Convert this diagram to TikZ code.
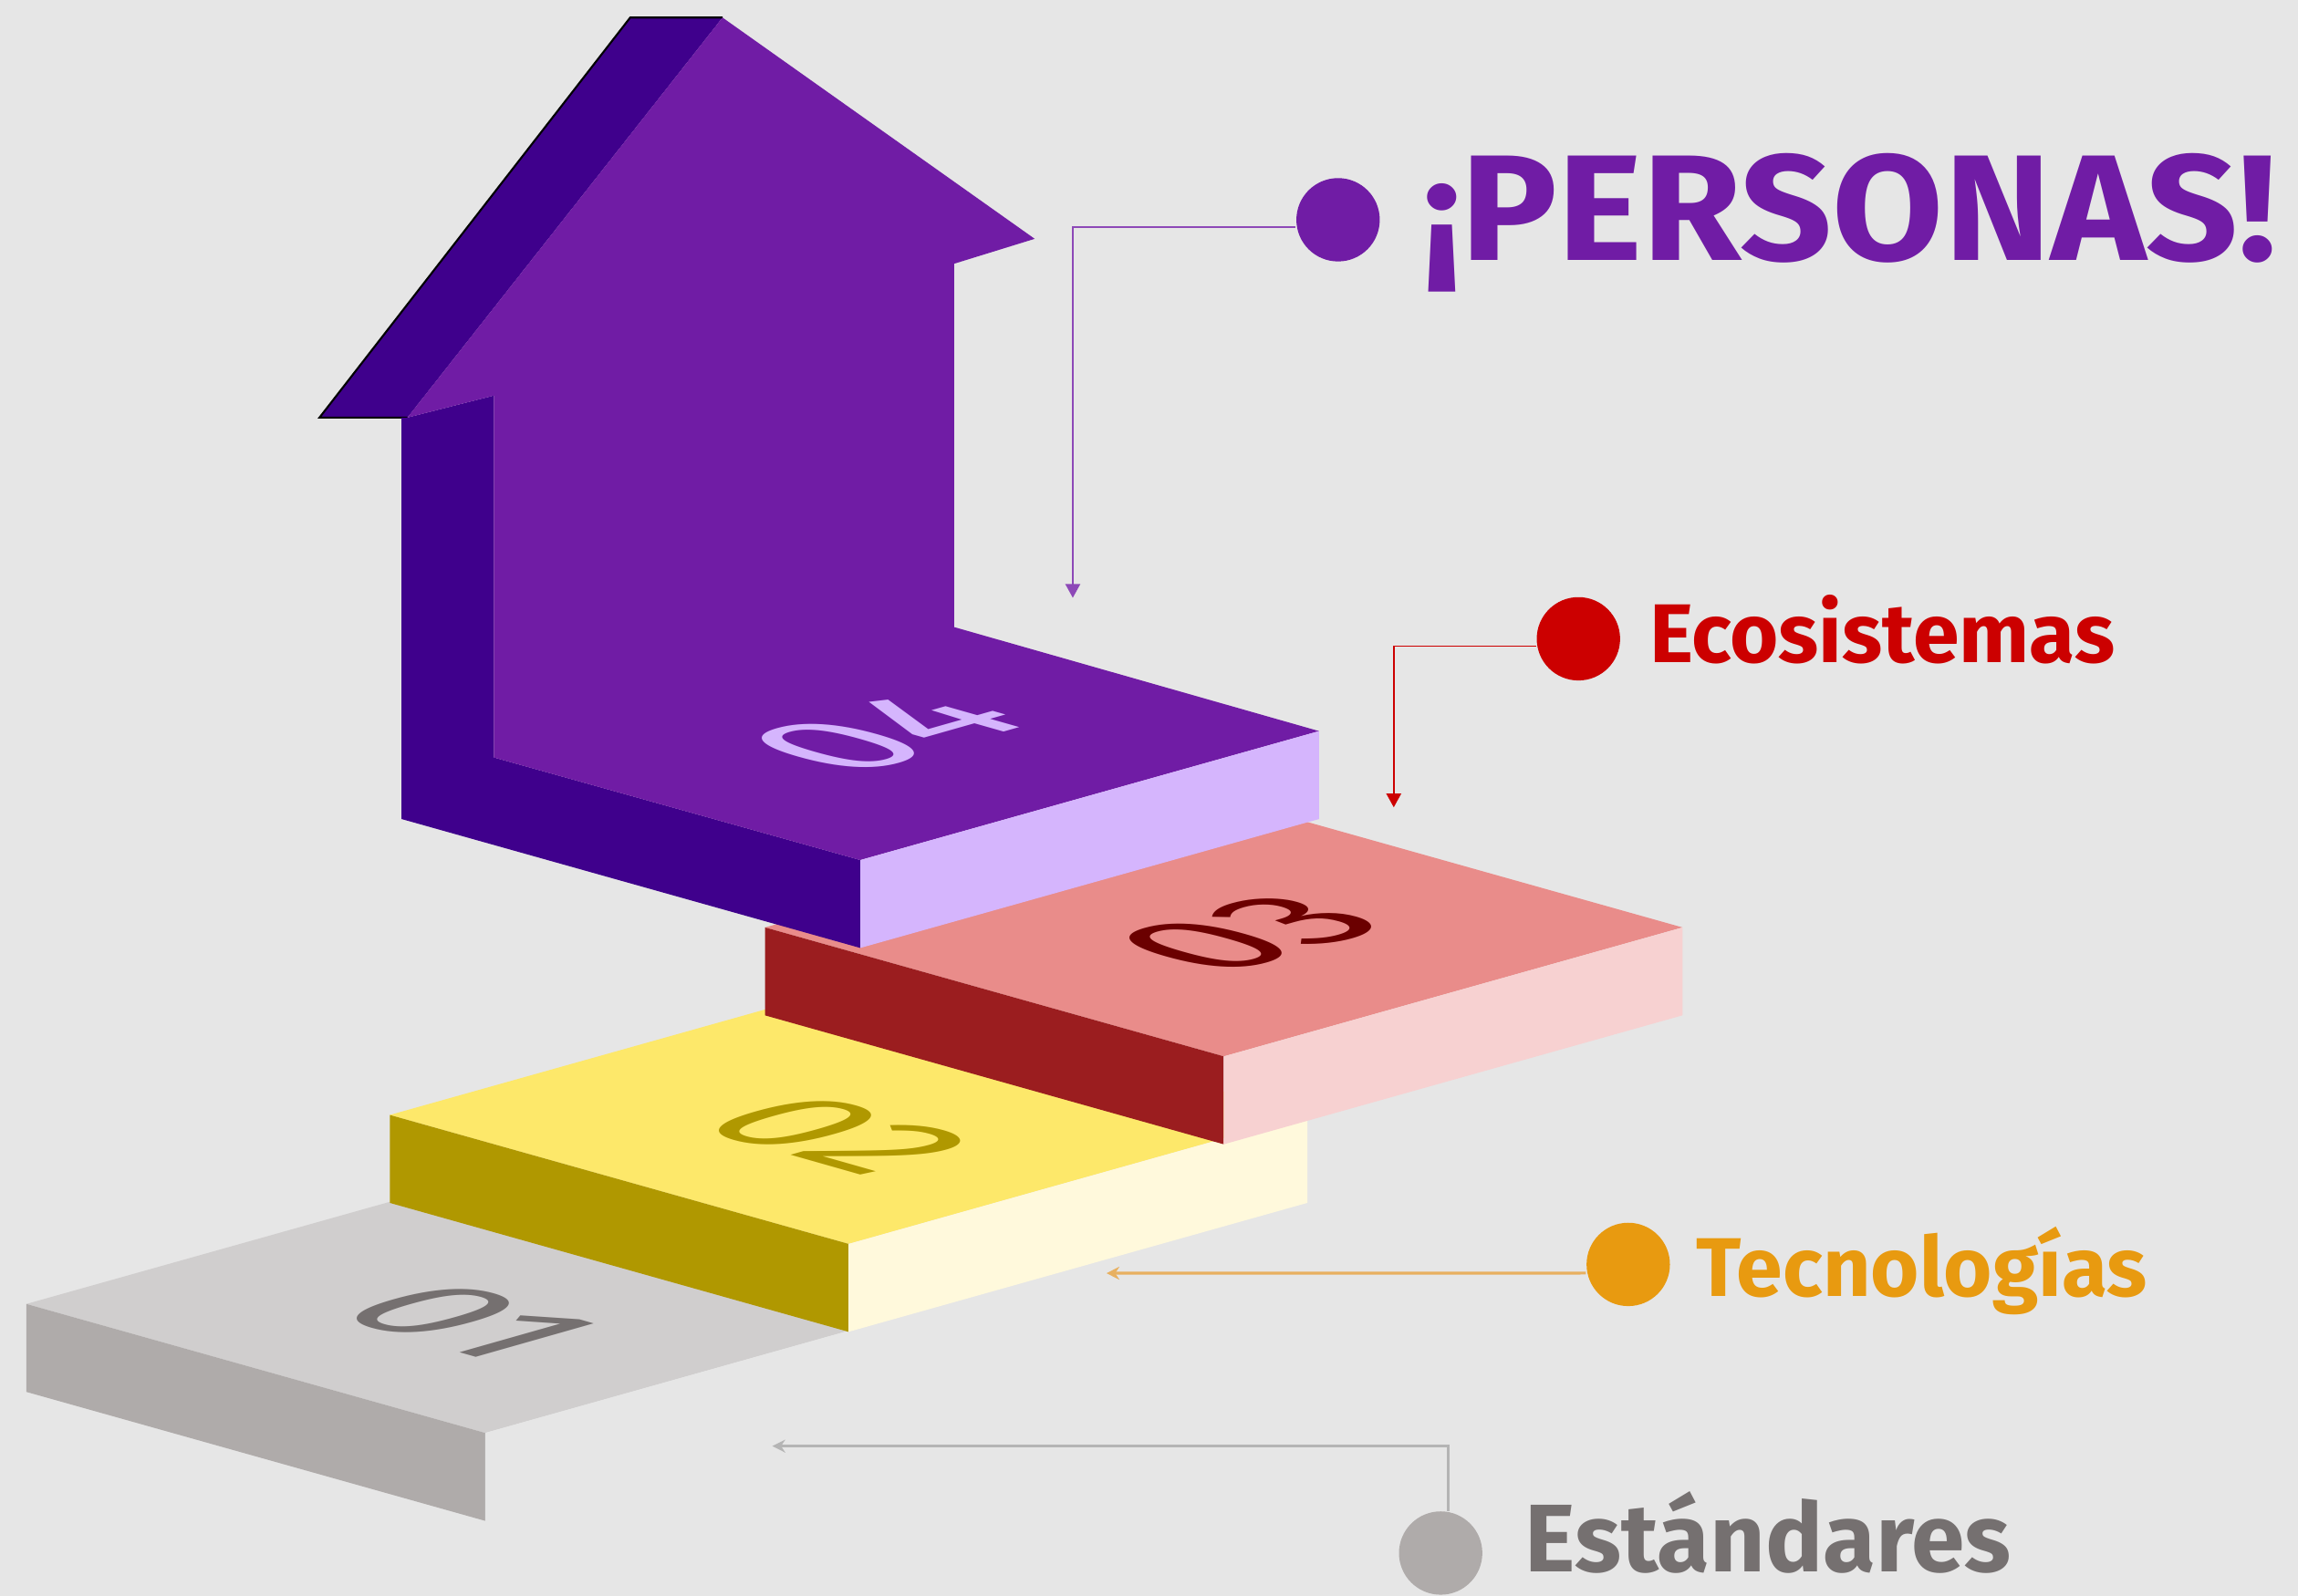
\documentclass[tikz,border=0pt]{standalone}
\usepackage{fontspec}
\setmainfont{Fira Sans}
\usetikzlibrary{arrows.meta}
\definecolor{bgc}{HTML}{E6E6E6}
\definecolor{purp}{HTML}{701CA5}
\definecolor{purpdark}{HTML}{3F008C}
\definecolor{lav}{HTML}{D5B5FD}
\definecolor{rtop}{HTML}{E98C8A}
\definecolor{rside}{HTML}{9B1D1F}
\definecolor{rfront}{HTML}{F7D1D1}
\definecolor{rdig}{HTML}{6B0000}
\definecolor{ytop}{HTML}{FDE86A}
\definecolor{yside}{HTML}{B09800}
\definecolor{yfront}{HTML}{FFF9DC}
\definecolor{gtop}{HTML}{D0CECE}
\definecolor{gside}{HTML}{AFABAA}
\definecolor{gdig}{HTML}{757070}
\definecolor{ecored}{HTML}{CC0000}
\definecolor{tecor}{HTML}{E89A10}
\definecolor{tecline}{HTML}{E8B060}
\definecolor{estline}{HTML}{B4B4B4}

\begin{document}
\begin{tikzpicture}[x=0.016065cm,y=0.016065cm,
    dot/.style={circle,inner sep=0pt,minimum size=26pt},
    callout/.style={anchor=base west,inner sep=0pt},
    steplabel/.style={transform shape,inner sep=0pt,font=\fontsize{55}{55}\selectfont}]
\newcommand{\SlabH}{60}
\useasboundingbox (0,0) rectangle (1568,-1089);
\fill[bgc] (0,0) rectangle (1568,-1089);

\foreach \lx/\ly/\ctop/\cleft/\cright in
{18/890/gtop/gside/bgc, 266/761/ytop/yside/yfront, 522/633/rtop/rside/rfront}
{
    \fill[\ctop] (\lx,-\ly) -- ++(313,-88) -- ++(313,88) -- ++(-313,88) -- cycle;
    \fill[\cleft] (\lx,-\ly) -- ++(313,-88) -- ++(0,-\SlabH) -- ++(-313,88) -- cycle;
    \fill[\cright] (\lx+313,-\ly-88) -- ++(313,88) -- ++(0,-\SlabH) -- ++(-313,-88) -- cycle;
}

\fill[purpdark] (218,-285) -- (430,-12) -- (493,-12) -- (278,-285) -- cycle;
\draw[black,line width=0.6pt] (278,-285) -- (218,-285) -- (430,-12) -- (493,-12);
\fill[purpdark] (274,-285) -- (278,-285) -- (337,-270) -- (337,-517) -- (587,-587)
    -- (587,-647) -- (274,-559) -- cycle;
\fill[purp] (278,-285) -- (493,-12) -- (706,-163) -- (651,-180) -- (651,-428)
    -- (900,-499) -- (587,-587) -- (337,-517) -- (337,-270) -- cycle;
\fill[lav] (587,-587) -- (900,-499) -- (900,-499-\SlabH) -- (587,-647) -- cycle;

\foreach \px/\py/\b/\c/\txt/\col in
{320/902/-0.284/1/01/gdig, 572/775/-0.284/1/02/yside, 852/637/0.284/-1/03/rdig, 604/500/0.284/-1/04/lav}
{
    \begin{scope}[shift={(\px,-\py)},cm={1,\b,\c,0.284,(0,0)}]
        \node[steplabel,text=\col] (lbl\txt) {\txt};
    \end{scope}
}

\node[dot,fill=purp] (dotP) at (913,-150) {};
\coordinate (tipP) at (732,-408);
\draw[purp!80!white,line width=0.5pt,-{Triangle[width=4.6pt,length=4.3pt]}]
    ([yshift=-2.3pt]dotP.west) -| (tipP);
\node[callout,text=purp,font=\bfseries\fontsize{47}{47}\selectfont\addfontfeature{FakeStretch=1.07}] (txtP) at (970,-178) {¡PERSONAS!};

\node[dot,fill=ecored] (dotR) at (1077,-436) {};
\coordinate (tipR) at (951,-551);
\draw[ecored,line width=0.5pt,-{Triangle[width=4.6pt,length=4.3pt]}]
    ([yshift=-2.3pt]dotR.west) -| (tipR);
\node[callout,text=ecored,font=\bfseries\fontsize{26}{26}\selectfont] (txtR) at (1125,-452) {Ecosistemas};

\node[dot,fill=tecor] (dotT) at (1111,-863) {};
\coordinate (tipT) at (755,-869);
\draw[tecline,line width=0.9pt,-{Stealth[width=4pt,length=4pt]}]
    ([yshift=-2.7pt]dotT.west) -- (tipT);
\node[callout,text=tecor,font=\bfseries\fontsize{26}{26}\selectfont] (txtT) at (1157,-885) {Tecnologías};

\node[dot,fill=gside] (dotE) at (983,-1060) {};
\coordinate (tipE) at (527,-987);
\draw[estline,line width=0.7pt,-{Stealth[width=4pt,length=4pt]}]
    ([xshift=2.3pt]dotE.north) |- (tipE);
\node[callout,text=gdig,font=\bfseries\fontsize{30}{30}\selectfont] (txtE) at (1040,-1073) {Estándares};
\end{tikzpicture}
\end{document}
